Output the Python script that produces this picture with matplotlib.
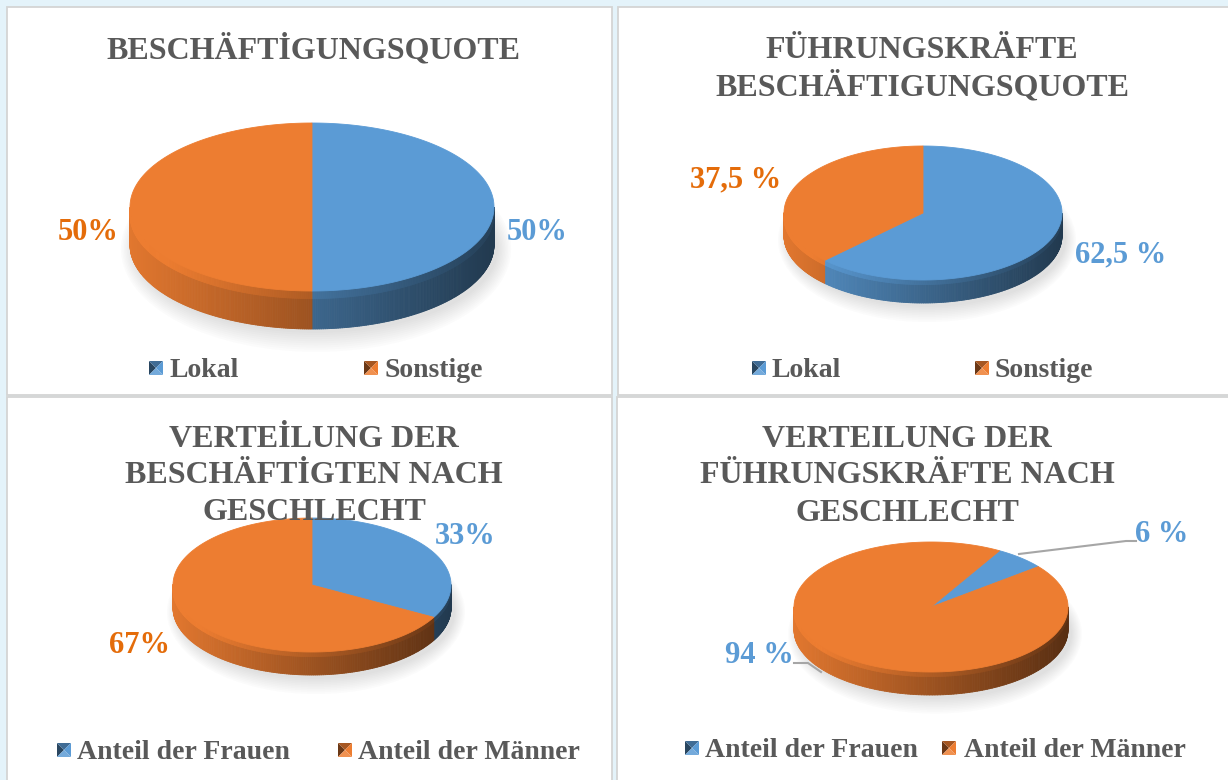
import numpy as np
import matplotlib.pyplot as plt
from matplotlib.patches import Polygon, Rectangle, Ellipse
from matplotlib.collections import PolyCollection
import matplotlib.colors as mcolors

plt.rcParams['font.family'] = ['Liberation Serif', 'DejaVu Serif']

# data
quote_labels = ['Lokal', 'Sonstige']
quote_values = [50, 50]
quote_texts = ['50%', '50%']
mgmt_quote_values = [62.5, 37.5]
mgmt_quote_texts = ['62,5 %', '37,5 %']
gender_labels = ['Anteil der Frauen', 'Anteil der Männer']
staff_gender_values = [33, 67]
staff_gender_texts = ['33%', '67%']
mgmt_gender_values = [6, 94]
mgmt_gender_texts = ['6 %', '94 %']

titles = ['BESCHÄFTİGUNGSQUOTE',
          'FÜHRUNGSKRÄFTE\nBESCHÄFTIGUNGSQUOTE',
          'VERTEİLUNG DER\nBESCHÄFTİGTEN NACH\nGESCHLECHT',
          'VERTEILUNG DER\nFÜHRUNGSKRÄFTE NACH\nGESCHLECHT']

blue = '#5B9BD5'
orange = '#ED7D31'
blue_txt = '#5B9BD5'
orange_txt = '#E46C0A'
grey_txt = '#595959'
slice_colors = [blue, orange]

fig = plt.figure(figsize=(12.28, 7.8), dpi=100)
fig.patch.set_facecolor('#E4F3FA')
ax = fig.add_axes([0, 0, 1, 1])
ax.set_xlim(0, 1228)
ax.set_ylim(780, 0)
ax.axis('off')

# panels
for (x, y, w, h) in [(7, 7, 605, 388), (618, 7, 620, 388), (7, 397, 605, 390), (617, 397, 620, 390)]:
    ax.add_patch(Rectangle((x, y), w, h, fc='white', ec='#D4D4D4', lw=1.3, zorder=0))


def pie3d(values, cx, cy, a, b, depth, start=0):
    total = sum(values)
    edges = np.cumsum([0] + list(values)) / total * 360
    # soft shadow
    for k in range(10):
        ax.add_patch(Ellipse((cx + 4, cy + depth + 4), 2 * a * (1.0 + k * 0.008), 2 * b * (1.0 + k * 0.025),
                             fc='#7F7F7F', alpha=0.022, lw=0, zorder=1))
    for i in range(len(values)):
        base = np.array(mcolors.to_rgb(slice_colors[i]))
        t0 = 90 - start - edges[i]
        t1 = 90 - start - edges[i + 1]
        ts = np.radians(np.linspace(t0, t1, 300))
        quads, cols, rims, rcols = [], [], [], []
        for j in range(len(ts) - 1):
            tm = (ts[j] + ts[j + 1]) / 2
            if np.sin(tm) > 0.001:
                continue
            x0, x1 = cx + a * np.cos(ts[j]), cx + a * np.cos(ts[j + 1])
            y0, y1 = cy - b * np.sin(ts[j]), cy - b * np.sin(ts[j + 1])
            u = (np.cos(tm) + 1) / 2
            shade = 0.95 - 0.58 * u
            quads.append([(x0, y0), (x1, y1), (x1, y1 + depth), (x0, y0 + depth)])
            cols.append(np.clip(base * shade, 0, 1))
            rims.append([(x0, y0), (x1, y1), (x1, y1 + depth * 0.2), (x0, y0 + depth * 0.2)])
            rcols.append(np.clip(base * min(shade * 1.12, 1.0), 0, 1))
        if quads:
            ax.add_collection(PolyCollection(quads, facecolors=cols, edgecolors=cols, lw=0.6, zorder=2))
            ax.add_collection(PolyCollection(rims, facecolors=rcols, edgecolors=rcols, lw=0.6, zorder=2.5))
        pts = [(cx, cy)] + list(zip(cx + a * np.cos(ts), cy - b * np.sin(ts)))
        ax.add_patch(Polygon(pts, closed=True, fc=slice_colors[i], ec=slice_colors[i], lw=0.6, zorder=3))


def marker(xc, yc, color, s=7):
    c = np.array(mcolors.to_rgb(color))
    tl, tr, br, bl = (xc - s, yc - s), (xc + s, yc - s), (xc + s, yc + s), (xc - s, yc + s)
    m = (xc, yc)
    parts = [([tl, m, bl], c * 0.45), ([tl, tr, m], c * 0.7),
             ([tr, br, m], c), ([bl, m, br], c + (1 - c) * 0.15)]
    for p, col in parts:
        ax.add_patch(Polygon(p, closed=True, fc=np.clip(col, 0, 1), ec='none', zorder=4))


def title(lines, xc, baselines):
    for line, yb in zip(lines.split('\n'), baselines):
        ax.text(xc, yb, line, ha='center', va='baseline', fontsize=23, fontweight='bold',
                color=grey_txt, zorder=6)


def legend(labels, marks, texts_x, yb):
    for lab, mx, tx, col in zip(labels, marks, texts_x, slice_colors):
        marker(mx, yb - 9, col)
        ax.text(tx, yb, lab, ha='left', va='baseline', fontsize=20, fontweight='bold',
                color=grey_txt, zorder=6)


# panel 1
pie3d(quote_values, 312, 207, 182, 84, 38)
title(titles[0], 313, [58])
ax.text(537, 240, quote_texts[0], ha='center', va='baseline', fontsize=22, fontweight='bold', color=blue_txt)
ax.text(88, 240, quote_texts[1], ha='center', va='baseline', fontsize=22, fontweight='bold', color=orange_txt)
legend(quote_labels, [156, 371], [170, 385], 377)

# panel 2
pie3d(mgmt_quote_values, 923, 213, 139, 67, 23)
title(titles[1], 922, [58, 95])
ax.text(1121, 262, mgmt_quote_texts[0], ha='center', va='baseline', fontsize=22, fontweight='bold', color=blue_txt)
ax.text(736, 187, mgmt_quote_texts[1], ha='center', va='baseline', fontsize=22, fontweight='bold', color=orange_txt)
legend(quote_labels, [759, 982], [772, 995], 377)

# panel 3
pie3d(staff_gender_values, 312, 585, 139, 67, 23)
title(titles[2], 314, [447, 483, 520])
ax.text(465, 544, staff_gender_texts[0], ha='center', va='baseline', fontsize=22, fontweight='bold', color=blue_txt)
ax.text(139, 653, staff_gender_texts[1], ha='center', va='baseline', fontsize=22, fontweight='bold', color=orange_txt)
legend(gender_labels, [64, 345], [77, 358], 759)

# panel 4
pie3d(mgmt_gender_values, 931, 607, 137, 65, 23, start=30)
title(titles[3], 907, [447, 483, 521])
ax.plot([1136, 1126, 1019], [541, 541, 554], color='#A6A6A6', lw=1.5, zorder=5)
ax.plot([794, 808, 821], [663, 663, 672], color='#A6A6A6', lw=1.5, zorder=5)
ax.text(1162, 542, mgmt_gender_texts[0], ha='center', va='baseline', fontsize=22, fontweight='bold', color=blue_txt)
ax.text(759, 663, mgmt_gender_texts[1], ha='center', va='baseline', fontsize=22, fontweight='bold', color=blue_txt)
legend(gender_labels, [692, 949], [705, 964], 757)

fig.savefig('out.png', dpi=100)
